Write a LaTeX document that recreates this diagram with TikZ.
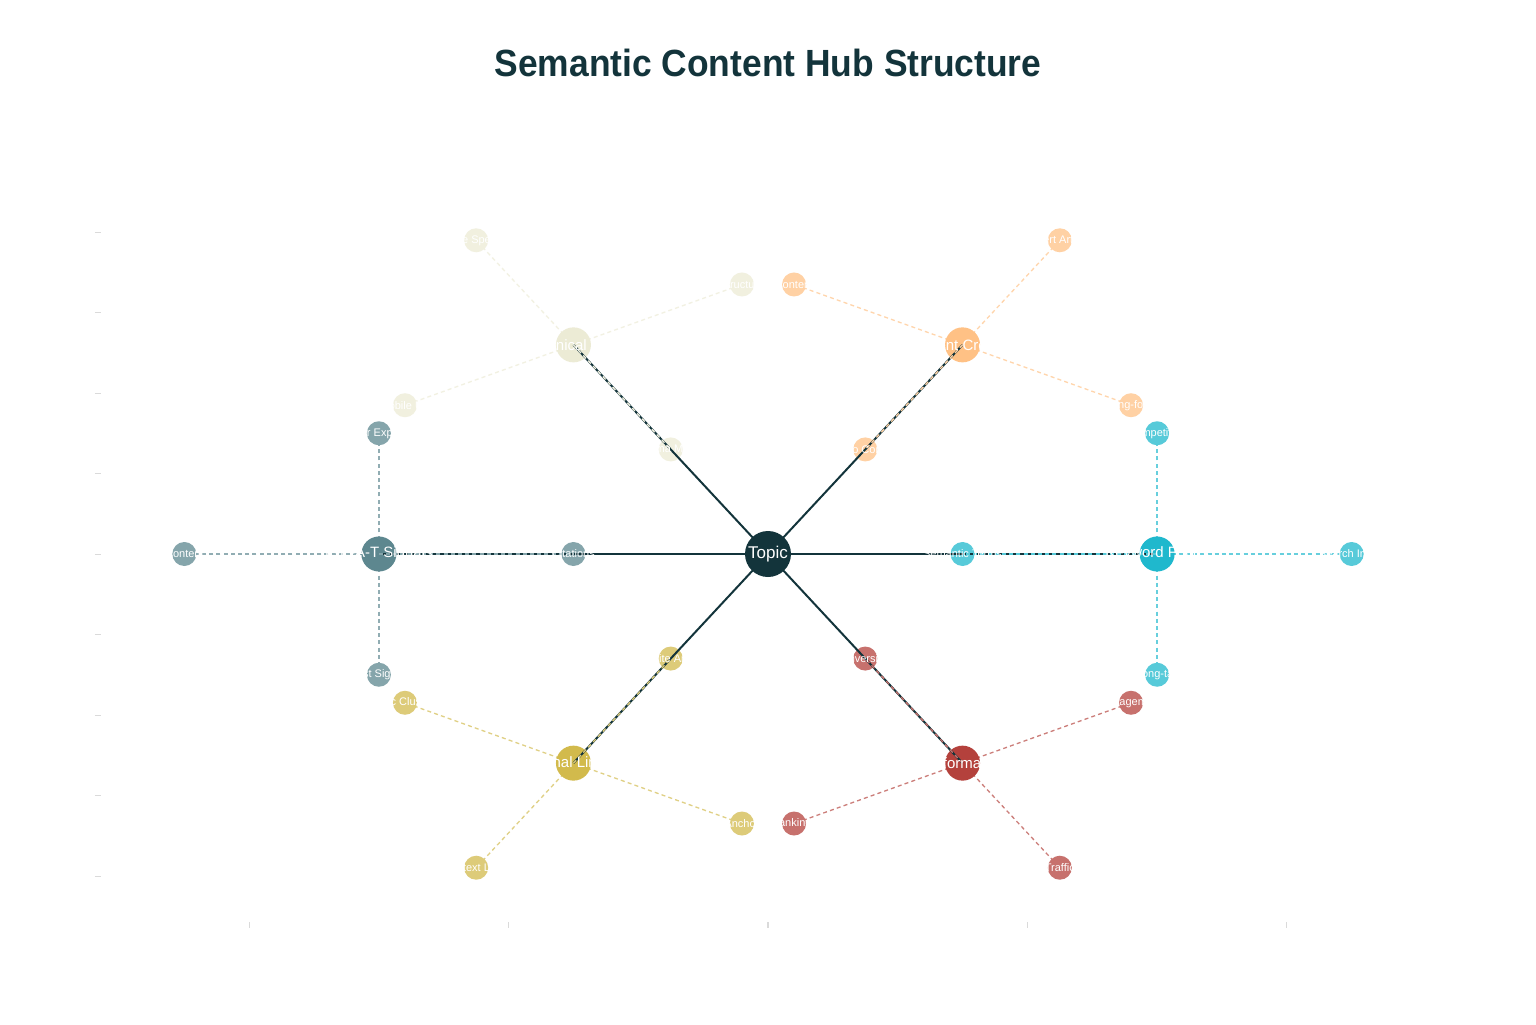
\documentclass[tikz,border=0pt]{standalone}
\usepackage{fontspec}
\setmainfont{Liberation Sans}
\definecolor{hubdark}{HTML}{13343B}
\definecolor{cKey}{HTML}{1FB8CD}
\definecolor{cCon}{HTML}{FFC185}
\definecolor{cTec}{HTML}{ECEBD5}
\definecolor{cEat}{HTML}{5D878F}
\definecolor{cInt}{HTML}{D2BA4C}
\definecolor{cPer}{HTML}{B4413C}
\definecolor{tickgrey}{HTML}{DADADA}
\pgfdeclarelayer{paper}
\pgfdeclarelayer{bg}
\pgfdeclarelayer{top}
\pgfsetlayers{paper,bg,main,top}
\begin{document}
\begin{tikzpicture}[x=64.85pt,y=40.25pt,
  hub/.style={circle,fill=hubdark,minimum size=23pt,inner sep=0pt},
  pillar/.style={circle,minimum size=17.5pt,inner sep=0pt},
  sat/.style={circle,minimum size=12pt,inner sep=0pt},
  hublab/.style={text=white,font=\fontsize{8.5pt}{9pt}\selectfont,inner sep=0pt},
  pillab/.style={text=white,font=\fontsize{7.5pt}{8pt}\selectfont,inner sep=0pt},
  satlab/.style={text=white,font=\fontsize{5.5pt}{6pt}\selectfont,inner sep=0pt},
  spoke/.style={draw=hubdark,line width=1pt},
  link/.style={line width=0.65pt,dash pattern=on 2pt off 1.6pt},
  tick/.style={draw=tickgrey,line width=0.5pt}]
\begin{pgfonlayer}{paper}
\fill[white] (-384pt,-235pt) rectangle (384pt,277pt);
\end{pgfonlayer}
\useasboundingbox (-384pt,-235pt) rectangle (384pt,277pt);

% title
\node[anchor=base,text=hubdark,font=\bfseries\fontsize{17.7pt}{20pt}\selectfont] (title) at (0pt,238.5pt) {\scalebox{1}[1.07]{Semantic Content Hub Structure}};

% axis ticks
\foreach \k in {-4,...,4}{
  \draw[tick] ({-336.5pt},{\k*40.25pt}) -- ({-333.5pt},{\k*40.25pt});
}
\foreach \k in {-2,...,2}{
  \draw[tick] ({\k*129.7pt},{-184pt}) -- ({\k*129.7pt},{-187pt});
}

% nodes
\node[hub] (hub) at (0,0) {};
\foreach \i/\ang/\col in {0/0/cKey,1/60/cCon,2/120/cTec,3/180/cEat,4/240/cInt,5/300/cPer}{
  \node[pillar,fill=\col] (p\i) at ({3*cos(\ang)},{3*sin(\ang)}) {};
  \foreach \j in {0,1,2,3}{
    \node[sat,fill=\col!75!white] (s\i\j) at ({3*cos(\ang)+1.5*cos(\ang+90*\j)},{3*sin(\ang)+1.5*sin(\ang+90*\j)}) {};
  }
}

% dashed pillar-satellite links (behind circles)
\begin{pgfonlayer}{bg}
\foreach \i/\col in {0/cKey,1/cCon,2/cTec,3/cEat,4/cInt,5/cPer}{
  \foreach \j in {0,1,2,3}{
    \draw[link,draw=\col!68!white] (p\i.center) -- (s\i\j.center);
  }
}
\end{pgfonlayer}

% spokes and labels on top
\begin{pgfonlayer}{top}
\foreach \i in {0,...,5}{
  \draw[spoke] (hub.center) -- (p\i.center);
}
\foreach \i/\col in {0/cKey,1/cCon,2/cTec,3/cEat,4/cInt,5/cPer}{
  \draw[link,draw=\col!75!white] (p\i.center) -- (s\i2.center);
}
\node[hublab] (hubt) at (hub) {Topic};
\foreach \i/\lab in {0/{Keyword Focus},1/{Content Creation},2/{Technical SEO},3/{E-E-A-T Signals},4/{Internal Linking},5/{Performance}}{
  \node[pillab] (p\i t) at (p\i) {\lab};
}
\foreach \n/\lab in {
  s00/{Search Intent},s01/{Competitors},s02/{Semantic Terms},s03/{Long-tail},
  s10/{Expert Articles},s11/{Content},s12/{Video Content},s13/{Long-form},
  s20/{Site Speed},s21/{Mobile UX},s22/{Schema Markup},s23/{Structure},
  s30/{Content},s31/{Trust Signals},s32/{Citations},s33/{Author Expertise},
  s40/{Context Links},s41/{Anchor},s42/{Satellite Articles},s43/{Topic Clusters},
  s50/{Traffic},s51/{Engagement},s52/{Conversions},s53/{Rankings}}{
  \node[satlab] (\n t) at (\n) {\lab};
}
\end{pgfonlayer}
\end{tikzpicture}
\end{document}
